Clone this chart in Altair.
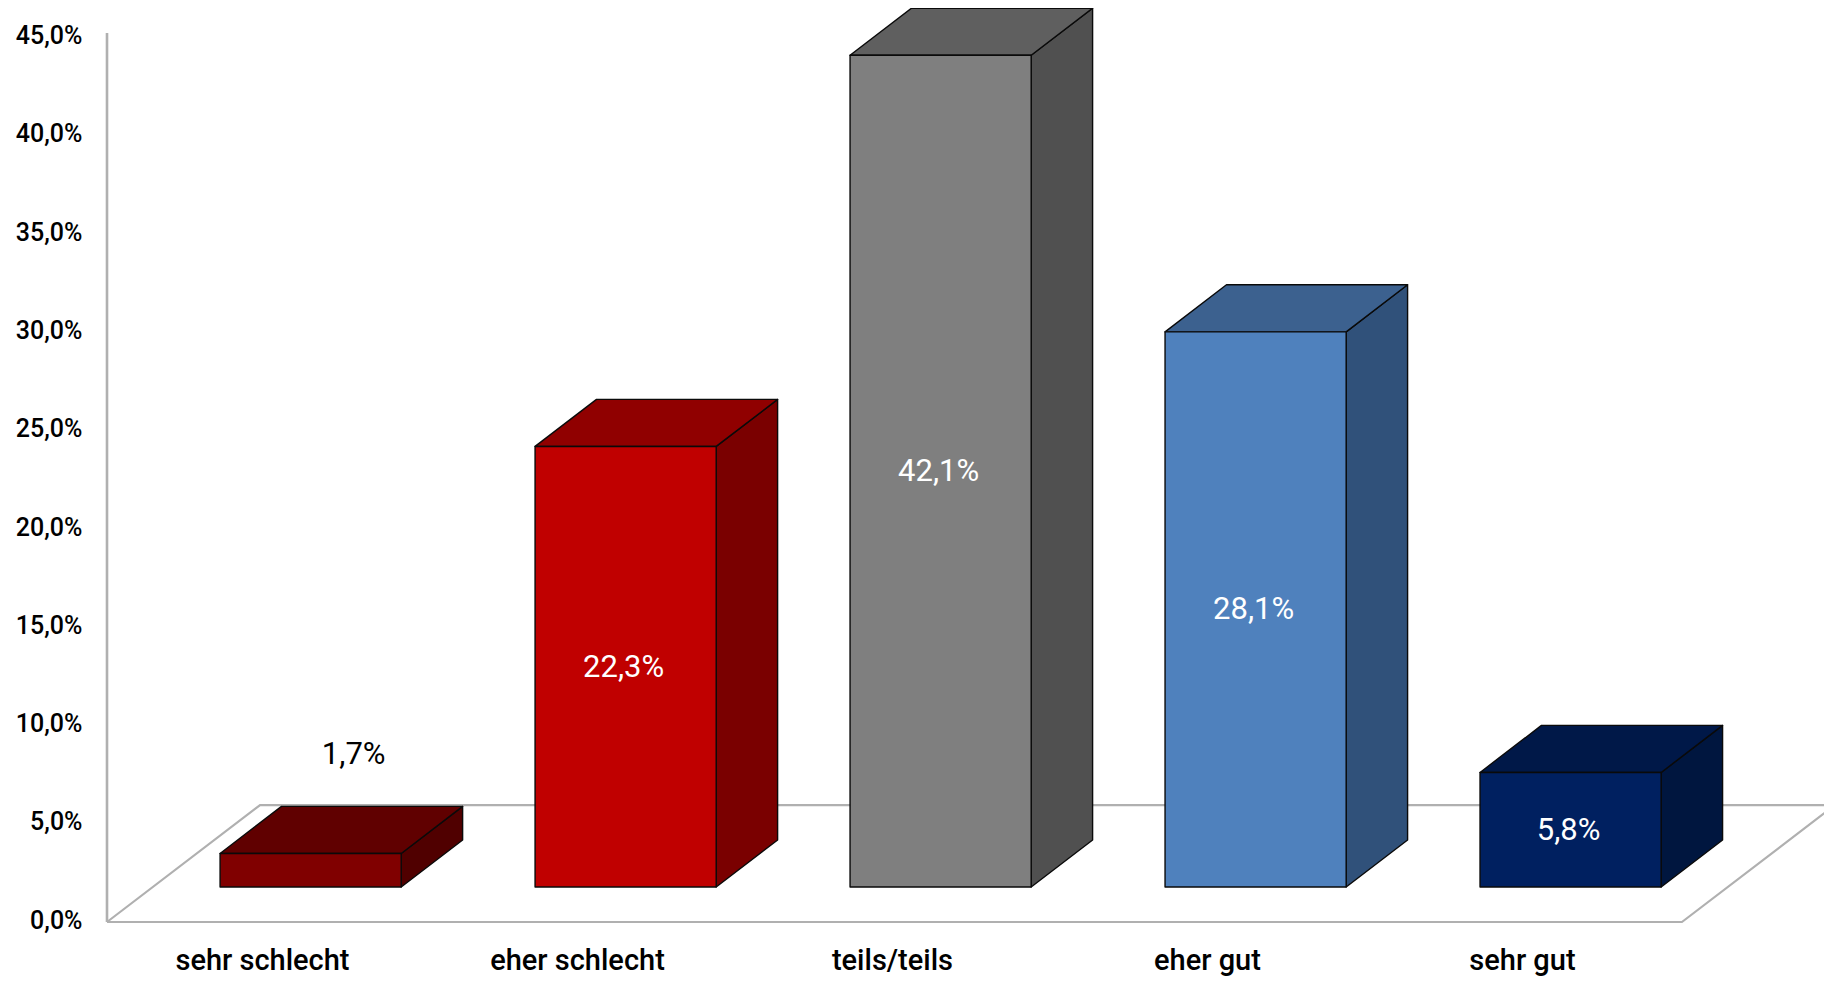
import json
import altair as alt
import pandas as pd

categories = ["sehr schlecht", "eher schlecht", "teils/teils", "eher gut", "sehr gut"]
values = [1.7, 22.3, 42.1, 28.1, 5.8]
value_labels = ["1,7%", "22,3%", "42,1%", "28,1%", "5,8%"]
y_ticks = [0, 5, 10, 15, 20, 25, 30, 35, 40, 45]
front_colors = ["#800000", "#c00000", "#7f7f7f", "#4f81bd", "#002060"]
top_colors = ["#600000", "#900000", "#5f5f5f", "#3c618f", "#001848"]
side_colors = ["#500000", "#7a0000", "#505050", "#30517a", "#00163f"]
label_colors = ["#000000", "#ffffff", "#ffffff", "#ffffff", "#ffffff"]

# Geometry of the oblique projection, in axis units
X_MAX, Y_MAX = 5.451, 46.26
BAR_LEFT, BAR_W = 0.359, 0.575
DX, DY = 0.195, 2.38
BASE = 1.77
FLOOR_DX, FLOOR_DY = 0.486, 5.92
FONT = "Roboto"

front, top, side, labels = [], [], [], []
for i, (c, v) in enumerate(zip(categories, values)):
    x0, x1 = i + BAR_LEFT, i + BAR_LEFT + BAR_W
    yt = BASE + v
    front.append(dict(c=c, x=x0, x2=x1, y=BASE, y2=yt, col=front_colors[i]))
    for px, a, b in [(x0, yt, yt), (x0 + DX, yt, yt + DY), (x1, yt, yt + DY), (x1 + DX, yt + DY, yt + DY)]:
        top.append(dict(c=c, x=px, y=a, y2=b, col=top_colors[i]))
    for px, a, b in [(x1, BASE, yt), (x1 + DX, BASE + DY, yt + DY)]:
        side.append(dict(c=c, x=px, y=a, y2=b, col=side_colors[i]))
    outside = v < 3
    labels.append(dict(
        x=(x0 + x1) / 2 + (0.143 if outside else 0),
        y=(yt + 5.05) if outside else BASE + v / 2,
        t=value_labels[i], col=label_colors[i],
    ))

floor = pd.DataFrame([
    dict(o=0, x=0, y=0), dict(o=1, x=5, y=0), dict(o=2, x=5 + FLOOR_DX, y=FLOOR_DY),
    dict(o=3, x=FLOOR_DX, y=FLOOR_DY), dict(o=4, x=0, y=0),
])

xs = alt.Scale(domain=[0, X_MAX], nice=False, zero=False)
ys = alt.Scale(domain=[0, Y_MAX], nice=False, zero=False)
# The tick labels of the original sit slightly tighter than its bars' scale
label_ys = alt.Scale(domain=[-0.1, 46.41], nice=False, zero=False)
cat_js = json.dumps(categories)

Yp = alt.Y("y:Q", scale=ys, axis=None)

X = alt.X("x:Q", scale=xs, title=None, axis=alt.Axis(
    values=[0.5, 1.5, 2.5, 3.5, 4.5], domain=False, ticks=False, grid=False,
    labelExpr=f"{cat_js}[round(datum.value - 0.5)]", labelFont=FONT, labelFontSize=29,
    labelColor="#000000", labelPadding=24, labelOffset=-2.5, labelFontWeight=500,
    labelOverlap=False, labelFlush=False))
Y_axis = alt.Y("y:Q", scale=label_ys, title=None, axis=alt.Axis(
    values=y_ticks, domain=False, ticks=False, grid=False, orient="left",
    labelExpr="replace(format(datum.value, '.1f'), '.', ',') + '%'", labelFont=FONT, labelFontSize=25,
    labelColor="#000000", labelPadding=25, labelFontWeight=500, labelOverlap=False))

grey = "#b0b0b0"
axis_layer = alt.Chart(pd.DataFrame({"y": y_ticks})).mark_tick(opacity=0).encode(y=Y_axis)
floor_layer = alt.Chart(floor).mark_line(color=grey, strokeWidth=2.2).encode(X, Yp, order="o:Q")
y_rule = alt.Chart(pd.DataFrame({"x": [0], "y": [0], "y2": [45]})).mark_rule(color=grey, strokeWidth=2.6).encode(
    X, Yp, y2="y2:Q")

stroke = dict(stroke="#0a0a0a", strokeWidth=1.4, strokeJoin="round")
front_layer = alt.Chart(pd.DataFrame(front)).mark_rect(**stroke).encode(
    X, x2="x2:Q", y=Yp, y2="y2:Q",
    color=alt.Color("col:N", scale=None, legend=None))
top_layer = alt.Chart(pd.DataFrame(top)).mark_area(**stroke, interpolate="linear").encode(
    X, Yp, y2="y2:Q",
    color=alt.Color("col:N", scale=None, legend=None), detail="c:N")
side_layer = alt.Chart(pd.DataFrame(side)).mark_area(**stroke, interpolate="linear").encode(
    X, Yp, y2="y2:Q",
    color=alt.Color("col:N", scale=None, legend=None), detail="c:N")
text_layer = alt.Chart(pd.DataFrame(labels)).mark_text(
    font=FONT, fontSize=31, align="center", baseline="middle", fontWeight=400, dx=-2, dy=1).encode(
    X, Yp, text="t:N",
    color=alt.Color("col:N", scale=None, legend=None))

chart = alt.layer(axis_layer, floor_layer, y_rule, side_layer, top_layer, front_layer, text_layer).resolve_scale(
    y="independent"
).properties(
    width=1717, height=914, background="#ffffff",
    autosize=alt.AutoSizeParams(type="none"),
    padding={"left": 99, "top": 0, "right": 0, "bottom": 55},
).configure_view(stroke=None)

chart.save("out.html", embed_options={"renderer": "svg", "actions": False})
